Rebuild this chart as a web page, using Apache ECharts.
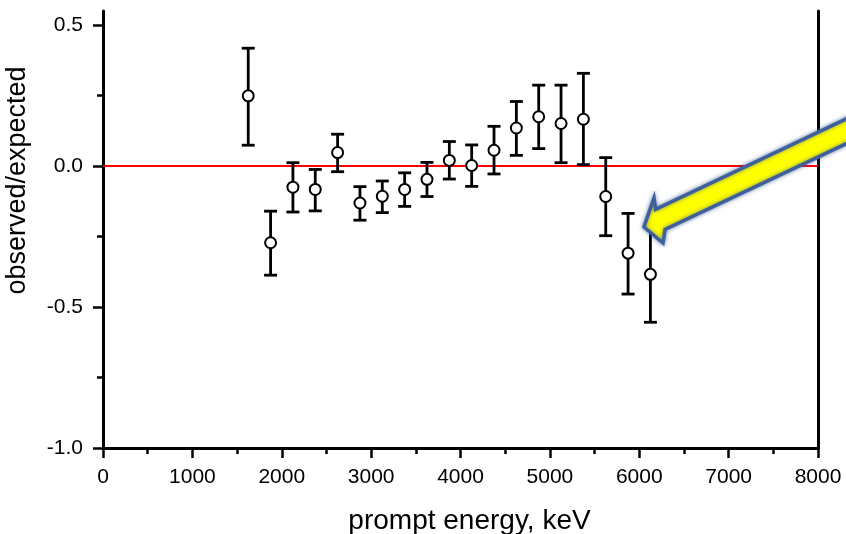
<!DOCTYPE html>
<html>
<head>
<meta charset="utf-8">
<script src="https://cdn.jsdelivr.net/npm/echarts@6/dist/echarts.min.js"></script>
<style>
html,body{margin:0;padding:0;background:#fff;}
#chart{width:846px;height:534px;}
</style>
</head>
<body>
<div id="chart"></div>
<script>
// prompt energy (keV)
const energy = [1625, 1875, 2125, 2375, 2625, 2875, 3125, 3375, 3625, 3875, 4125, 4375, 4625, 4875, 5125, 5375, 5625, 5875, 6125];
// observed/expected central values
const ratio = [0.249, -0.272, -0.075, -0.083, 0.048, -0.131, -0.107, -0.083, -0.047, 0.020, 0.002, 0.056, 0.135, 0.175, 0.151, 0.166, -0.108, -0.309, -0.384];
// error bar ends
const errHigh = [0.418, -0.160, 0.012, -0.012, 0.113, -0.073, -0.053, -0.024, 0.013, 0.087, 0.075, 0.141, 0.229, 0.287, 0.287, 0.329, 0.030, -0.168, -0.214];
const errLow = [0.074, -0.387, -0.163, -0.159, -0.020, -0.192, -0.165, -0.143, -0.108, -0.046, -0.072, -0.028, 0.038, 0.062, 0.012, 0.005, -0.247, -0.454, -0.554];
// reference line at ratio 0
const refLineX = [0, 8000];
const refLineY = [0, 0];
// axis ticks
const yMajorTicks = [-1.0, -0.5, 0.0, 0.5];
const yMinorTicks = [-0.75, -0.25, 0.25];

const FONT = "'Liberation Sans', Arial, sans-serif";
const chart = echarts.init(document.getElementById('chart'), null, {renderer: 'canvas'});

const errData = energy.map((e, i) => [e, errLow[i], errHigh[i]]);
const ptData = energy.map((e, i) => [e, ratio[i]]);
const refData = refLineX.map((x, i) => [x, refLineY[i]]);

const yCommon = {type: 'value', min: -1.0, max: 0.55, splitLine: {show: false}};

chart.setOption({
  animation: false,
  backgroundColor: '#fff',
  grid: {left: 103, right: 28, top: 11, bottom: 86, containLabel: false, outerBoundsMode: 'none'},
  xAxis: {
    type: 'value', min: 0, max: 8000, interval: 1000,
    name: 'prompt energy, keV', nameLocation: 'middle', nameGap: 59,
    nameTextStyle: {fontSize: 28, color: '#000', fontFamily: FONT, padding: [0, 0, 0, 18]},
    axisLine: {show: true, onZero: false, lineStyle: {color: '#000', width: 3}},
    axisTick: {show: true, inside: false, length: 10, lineStyle: {color: '#000', width: 2.5}},
    minorTick: {show: true, splitNumber: 2, length: 6, lineStyle: {color: '#000', width: 2.5}},
    axisLabel: {fontSize: 21, color: '#000', fontFamily: FONT, margin: 19, formatter: v => String(v)},
    splitLine: {show: false}
  },
  yAxis: [
    Object.assign({}, yCommon, {
      position: 'left',
      name: 'observed/expected', nameLocation: 'middle', nameGap: 72,
      nameTextStyle: {fontSize: 27, color: '#000', fontFamily: FONT, padding: [0, 0, 0, 98]},
      axisLine: {show: true, onZero: false, lineStyle: {color: '#000', width: 3}},
      axisTick: {show: true, length: 10, customValues: yMajorTicks, lineStyle: {color: '#000', width: 2.5}},
      axisLabel: {fontSize: 21, color: '#000', fontFamily: FONT, margin: 20, customValues: yMajorTicks,
        formatter: v => v.toFixed(1)}
    }),
    Object.assign({}, yCommon, {
      position: 'left', offset: 0,
      axisLine: {show: false},
      axisTick: {show: true, length: 6, customValues: yMinorTicks, lineStyle: {color: '#000', width: 2.5}},
      axisLabel: {show: false}
    }),
    Object.assign({}, yCommon, {
      position: 'right', offset: 0,
      axisLine: {show: true, onZero: false, lineStyle: {color: '#000', width: 3}},
      axisTick: {show: false},
      axisLabel: {show: false}
    })
  ],
  series: [
    {
      type: 'line', data: refData, yAxisIndex: 0, symbol: 'none', z: 1,
      lineStyle: {color: '#ff0000', width: 2}, silent: true
    },
    {
      type: 'custom', data: errData, yAxisIndex: 0, z: 2,
      renderItem: function (params, api) {
        const x = api.value(0);
        const lo = api.coord([x, api.value(1)]);
        const hi = api.coord([x, api.value(2)]);
        const w = 6.5;
        const st = {stroke: '#000', lineWidth: 2.8, fill: null};
        return {
          type: 'group',
          children: [
            {type: 'line', shape: {x1: hi[0], y1: hi[1], x2: lo[0], y2: lo[1]}, style: st},
            {type: 'line', shape: {x1: hi[0] - w, y1: hi[1], x2: hi[0] + w, y2: hi[1]}, style: st},
            {type: 'line', shape: {x1: lo[0] - w, y1: lo[1], x2: lo[0] + w, y2: lo[1]}, style: st}
          ]
        };
      }
    },
    {
      type: 'scatter', data: ptData, yAxisIndex: 0, z: 3,
      symbol: 'circle', symbolSize: 11,
      itemStyle: {color: '#fff', borderColor: '#000', borderWidth: 2, opacity: 1}
    }
  ],
  graphic: [
    {
      type: 'polygon', z: 100, silent: true,
      shape: {points: [[644, 227], [663, 243], [665, 229.5], [875, 130], [865, 110], [655.6, 209.4], [654, 198]]},
      style: {fill: '#ffff00', stroke: '#40609a', lineWidth: 3.5, shadowBlur: 4, shadowColor: 'rgba(60,90,150,0.7)'}
    }
  ]
});
</script>
</body>
</html>
